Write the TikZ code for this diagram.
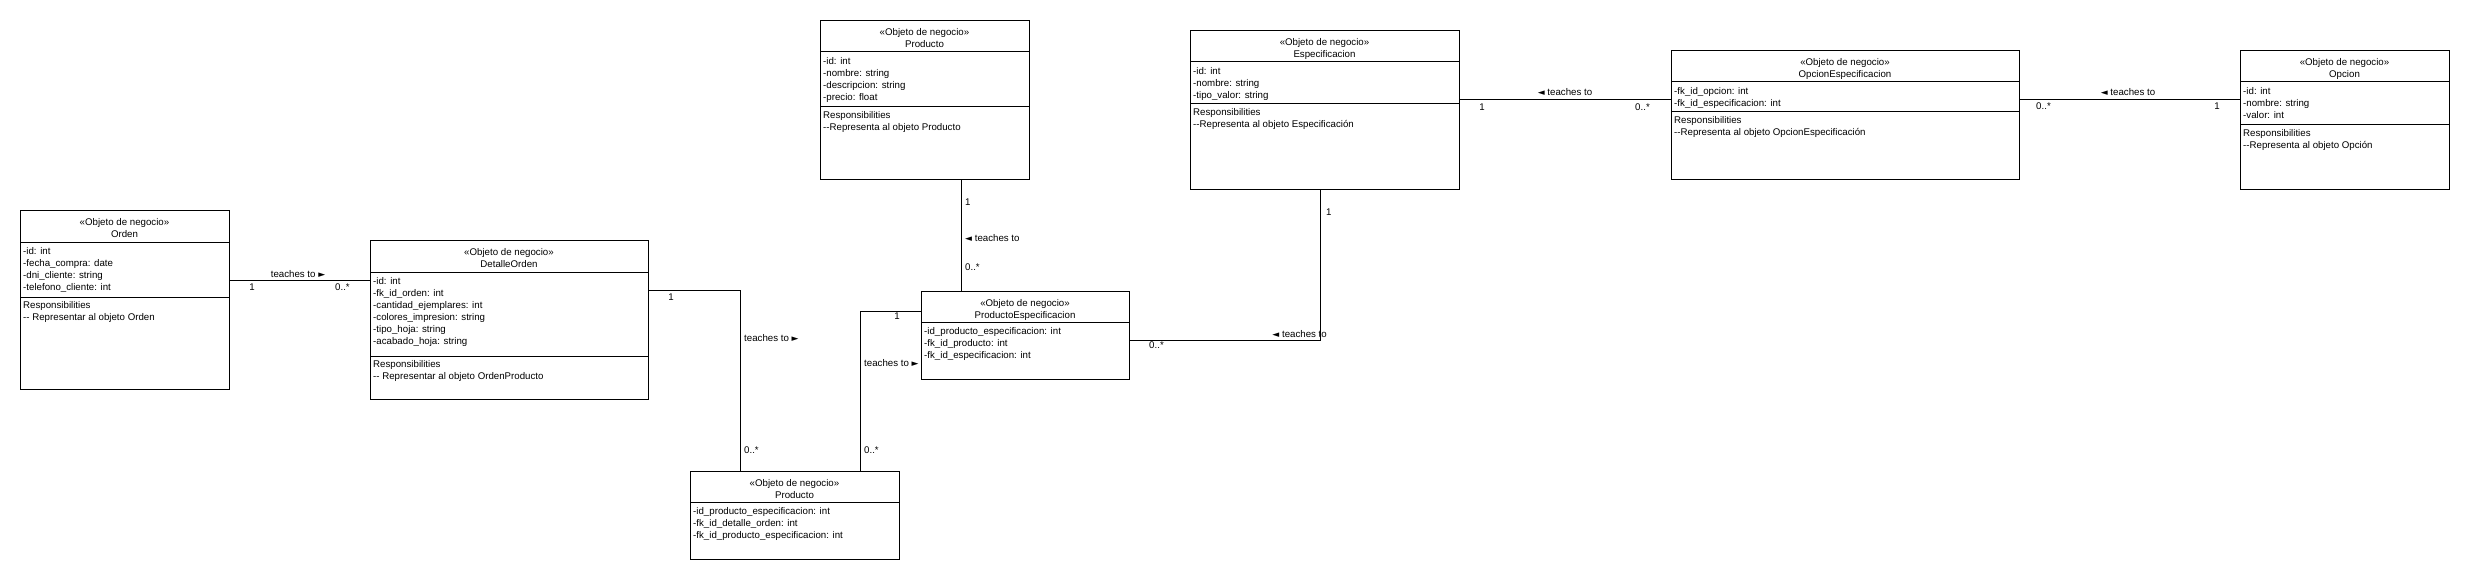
\documentclass[tikz,border=0pt]{standalone}
\usepackage{fontspec}
\setmainfont{Liberation Sans}
\newfontfamily\symfont{DejaVu Sans}
\newcommand{\umlfont}{\fontsize{9.7}{12}\selectfont}
\newcommand{\rtri}{{\symfont\fontsize{9}{9}\selectfont\char"25BA}}
\newcommand{\ltri}{{\symfont\fontsize{9}{9}\selectfont\char"25C4}}
\tikzset{
  cls/.style={draw, line width=1pt, inner sep=0pt, anchor=north west},
  divider/.style={line width=1pt},
  hdr/.style={font=\umlfont, inner sep=0pt, align=center, anchor=north},
  att/.style={font=\umlfont, inner sep=0pt, align=left, anchor=north west},
  lbl/.style={font=\umlfont, inner sep=0pt},
  conn/.style={line width=1pt},
}
\newcommand{\umlbox}[8]{%
  \node[cls, minimum width={#4-#2}, minimum height={#5-#3}] (#1) at (#2,#3) {};
  \draw[divider] (#2,#6) -- (#4,#6);
  \node[hdr] (#1-head) at ({(#2+#4)/2},{#3+8.5}) {«Objeto de negocio»\\#7};
  \node[att] (#1-attr) at ({#2+3},{#6+5}) {#8};
}
\newcommand{\umlresp}[5]{%
  \draw[divider] (#2,#4) -- (#3,#4);
  \node[att] (#1-resp) at ({#2+3},{#4+4}) {Responsibilities\\#5};
}
\begin{document}
\begin{tikzpicture}[x=1pt,y=-1pt]
\fill[white] (0,0) rectangle (2470,580);
\useasboundingbox (0,0) rectangle (2470,580);

% classes
\umlbox{orden}{20}{210}{229}{389}{242}{Orden}{-id: int\\-fecha\_compra: date\\-dni\_cliente: string\\-telefono\_cliente: int}
\umlresp{orden}{20}{229}{297}{-{}- Representar al objeto Orden}

\umlbox{detalle}{370}{240}{648}{399}{272}{DetalleOrden}{-id: int\\-fk\_id\_orden: int\\-cantidad\_ejemplares: int\\-colores\_impresion: string\\-tipo\_hoja: string\\-acabado\_hoja: string}
\umlresp{detalle}{370}{648}{356}{-{}- Representar al objeto OrdenProducto}

\umlbox{prodbot}{690}{471}{899}{559}{502}{Producto}{-id\_producto\_especificacion: int\\-fk\_id\_detalle\_orden: int\\-fk\_id\_producto\_especificacion: int}

\umlbox{prodesp}{921}{291}{1129}{379}{322}{ProductoEspecificacion}{-id\_producto\_especificacion: int\\-fk\_id\_producto: int\\-fk\_id\_especificacion: int}

\umlbox{producto}{820}{20}{1029}{179}{52}{Producto}{-id: int\\-nombre: string\\-descripcion: string\\-precio: float}
\umlresp{producto}{820}{1029}{107}{-{}-Representa al objeto Producto}

\umlbox{espec}{1190}{30}{1459}{189}{62}{Especificacion}{-id: int\\-nombre: string\\-tipo\_valor: string}
\umlresp{espec}{1190}{1459}{104}{-{}-Representa al objeto Especificación}

\umlbox{opcesp}{1671}{50}{2019}{179}{82}{OpcionEspecificacion}{-fk\_id\_opcion: int\\-fk\_id\_especificacion: int}
\umlresp{opcesp}{1671}{2019}{112}{-{}-Representa al objeto OpcionEspecificación}

\umlbox{opcion}{2240}{50}{2449}{189}{82}{Opcion}{-id: int\\-nombre: string\\-valor: int}
\umlresp{opcion}{2240}{2449}{125}{-{}-Representa al objeto Opción}

% connectors
\draw[conn] ([yshift=-70pt]orden.north east) -- ([yshift=-40pt]detalle.north west);
\draw[conn] ([yshift=-50pt]detalle.north east) -| ([xshift=50pt]prodbot.north west);
\draw[conn] ([yshift=-20pt]prodesp.north west) -| ([xshift=170pt]prodbot.north west);
\draw[conn] ([xshift=141pt]producto.south west) -- ([xshift=40pt]prodesp.north west);
\draw[conn] ([xshift=130pt]espec.south west) |- ([yshift=-49pt]prodesp.north east);
\draw[conn] ([yshift=-70pt]espec.north east) -- ([yshift=-50pt]opcesp.north west);
\draw[conn] ([yshift=-50pt]opcesp.north east) -- ([yshift=-50pt]opcion.north west);

% labels
\node[lbl, anchor=base] (c1t) at (298,277) {teaches to \rtri};
\node[lbl, anchor=base] (c1a) at (252,290) {1};
\node[lbl, anchor=base west] (c1b) at (335,290) {0..*};

\node[lbl, anchor=base] (c2a) at (671,300) {1};
\node[lbl, anchor=base west] (c2t) at (744,341) {teaches to \rtri};
\node[lbl, anchor=base west] (c2b) at (744,453) {0..*};

\node[lbl, anchor=base] (c3a) at (897,319) {1};
\node[lbl, anchor=base west] (c3t) at (864,366) {teaches to \rtri};
\node[lbl, anchor=base west] (c3b) at (864,453) {0..*};

\node[lbl, anchor=base west] (c4a) at (965,205) {1};
\node[lbl, anchor=base west] (c4t) at (965,241) {\ltri\ teaches to};
\node[lbl, anchor=base west] (c4b) at (965,270) {0..*};

\node[lbl, anchor=base west] (c5a) at (1326,215) {1};
\node[lbl, anchor=base east] (c5t) at (1327,337) {\ltri\ teaches to};
\node[lbl, anchor=base west] (c5b) at (1149,348) {0..*};

\node[lbl, anchor=base] (c6t) at (1565,96) {\ltri\ teaches to};
\node[lbl, anchor=base] (c6a) at (1482,111) {1};
\node[lbl, anchor=base west] (c6b) at (1635,111) {0..*};

\node[lbl, anchor=base] (c7t) at (2128,96) {\ltri\ teaches to};
\node[lbl, anchor=base west] (c7a) at (2036,110) {0..*};
\node[lbl, anchor=base] (c7b) at (2217,110) {1};
\end{tikzpicture}
\end{document}
